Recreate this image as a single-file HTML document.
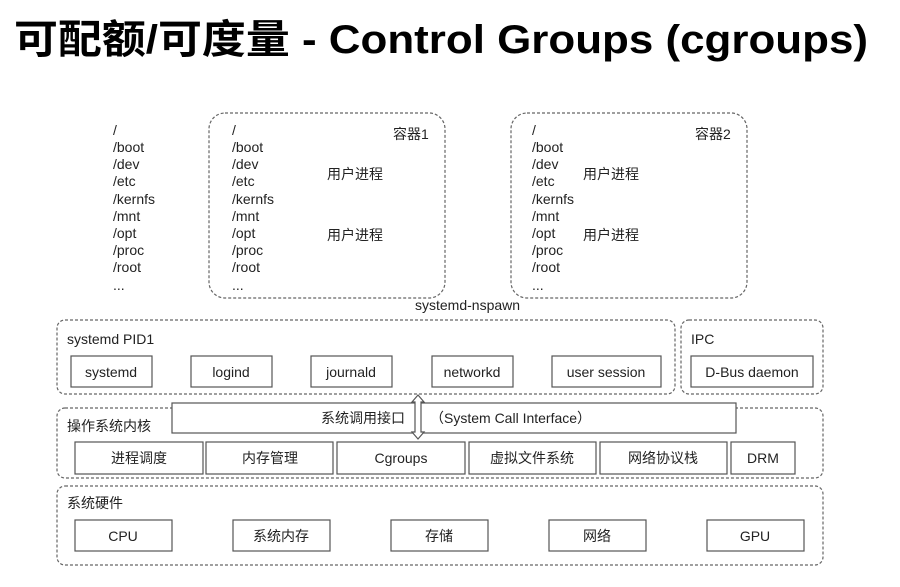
<!DOCTYPE html>
<html><head><meta charset="utf-8"><style>
html,body{margin:0;padding:0;background:#fff;width:900px;height:587px;overflow:hidden}
svg{display:block}
text{font-family:"Liberation Sans","Noto Sans CJK SC",sans-serif;fill:#222}
.d{fill:none;stroke:#666;stroke-width:1.2;stroke-dasharray:3,2}
.b{fill:#fff;stroke:#555;stroke-width:1.2}
</style></head><body>
<svg width="900" height="587" viewBox="0 0 900 587" xmlns="http://www.w3.org/2000/svg">
<text x="14" y="53" font-size="40" font-weight="bold" textLength="854" lengthAdjust="spacingAndGlyphs" style="fill:#000">可配额/可度量 - Control Groups (cgroups)</text>

<g font-size="14">
<text x="113" y="135">/</text><text x="113" y="152">/boot</text><text x="113" y="169">/dev</text><text x="113" y="186">/etc</text><text x="113" y="204">/kernfs</text><text x="113" y="221">/mnt</text><text x="113" y="238">/opt</text><text x="113" y="255">/proc</text><text x="113" y="272">/root</text><text x="113" y="290">...</text>
</g>

<rect class="d" x="209" y="113" width="236" height="185" rx="16"/>
<g font-size="14">
<text x="232" y="135">/</text><text x="232" y="152">/boot</text><text x="232" y="169">/dev</text><text x="232" y="186">/etc</text><text x="232" y="204">/kernfs</text><text x="232" y="221">/mnt</text><text x="232" y="238">/opt</text><text x="232" y="255">/proc</text><text x="232" y="272">/root</text><text x="232" y="290">...</text>
<text x="393" y="139">容器1</text>
<text x="327" y="179">用户进程</text>
<text x="327" y="240">用户进程</text>
</g>

<rect class="d" x="511" y="113" width="236" height="185" rx="16"/>
<g font-size="14">
<text x="532" y="135">/</text><text x="532" y="152">/boot</text><text x="532" y="169">/dev</text><text x="532" y="186">/etc</text><text x="532" y="204">/kernfs</text><text x="532" y="221">/mnt</text><text x="532" y="238">/opt</text><text x="532" y="255">/proc</text><text x="532" y="272">/root</text><text x="532" y="290">...</text>
<text x="695" y="139">容器2</text>
<text x="583" y="179">用户进程</text>
<text x="583" y="240">用户进程</text>
</g>
<text x="415" y="310" font-size="14">systemd-nspawn</text>

<rect class="d" x="57" y="320" width="618" height="74" rx="8"/>
<text x="67" y="344" font-size="14">systemd PID1</text>
<g font-size="14" text-anchor="middle">
<rect class="b" x="71" y="356" width="81" height="31"/><text x="111" y="377">systemd</text>
<rect class="b" x="191" y="356" width="81" height="31"/><text x="231" y="377">logind</text>
<rect class="b" x="311" y="356" width="81" height="31"/><text x="351" y="377">journald</text>
<rect class="b" x="432" y="356" width="81" height="31"/><text x="472" y="377">networkd</text>
<rect class="b" x="552" y="356" width="109" height="31"/><text x="606" y="377">user session</text>
</g>
<rect class="d" x="681" y="320" width="142" height="74" rx="8"/>
<text x="691" y="344" font-size="14">IPC</text>
<rect class="b" x="691" y="356" width="122" height="31"/><text x="752" y="377" font-size="14" text-anchor="middle">D-Bus daemon</text>

<rect class="d" x="57" y="408" width="766" height="70" rx="8"/>
<text x="67" y="431" font-size="14">操作系统内核</text>
<rect class="b" x="172" y="403" width="564" height="30"/>
<text x="405" y="423" font-size="14" text-anchor="end">系统调用接口</text>
<text x="430" y="423" font-size="14">（System Call Interface）</text>
<path d="M418 395 L424 402 L421 402 L421 432 L424 432 L418 439 L412 432 L415 432 L415 402 L412 402 Z" fill="#fff" stroke="#555" stroke-width="1.2"/>
<g font-size="14" text-anchor="middle">
<rect class="b" x="75" y="442" width="128" height="32"/><text x="139" y="463">进程调度</text>
<rect class="b" x="206" y="442" width="127" height="32"/><text x="270" y="463">内存管理</text>
<rect class="b" x="337" y="442" width="128" height="32"/><text x="401" y="463">Cgroups</text>
<rect class="b" x="469" y="442" width="127" height="32"/><text x="532" y="463">虚拟文件系统</text>
<rect class="b" x="600" y="442" width="127" height="32"/><text x="663" y="463">网络协议栈</text>
<rect class="b" x="731" y="442" width="64" height="32"/><text x="763" y="463">DRM</text>
</g>

<rect class="d" x="57" y="486" width="766" height="79" rx="8"/>
<text x="67" y="508" font-size="14">系统硬件</text>
<g font-size="14" text-anchor="middle">
<rect class="b" x="75" y="520" width="97" height="31"/><text x="123" y="541">CPU</text>
<rect class="b" x="233" y="520" width="97" height="31"/><text x="281" y="541">系统内存</text>
<rect class="b" x="391" y="520" width="97" height="31"/><text x="439" y="541">存储</text>
<rect class="b" x="549" y="520" width="97" height="31"/><text x="597" y="541">网络</text>
<rect class="b" x="707" y="520" width="97" height="31"/><text x="755" y="541">GPU</text>
</g>
</svg>
</body></html>
